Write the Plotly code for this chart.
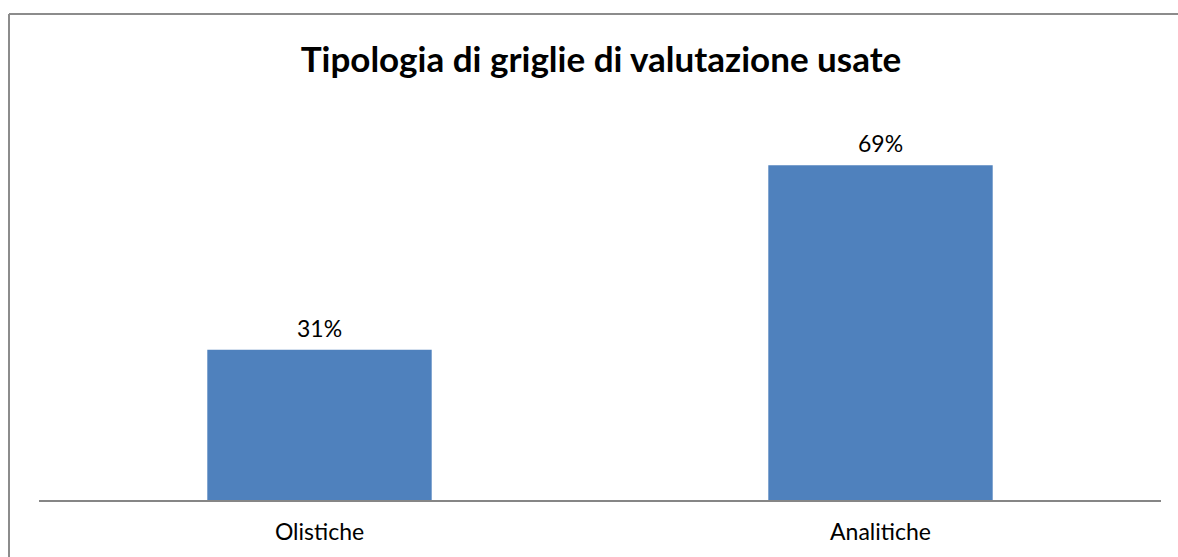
import plotly.graph_objects as go

categories = ["Olistiche", "Analitiche"]
values = [0.31, 0.69]
title_text = "Tipologia di griglie di valutazione usate"

W, H = 1178, 557
L, R, T, B = 39, 17, 112, 57
pw, ph = W - L - R, H - T - B

def px_x(x):
    return (x - L) / pw

def px_y(y):
    return (H - B - y) / ph

fig = go.Figure(go.Bar(
    x=categories, y=values,
    marker=dict(color="#4F81BD", line=dict(width=0)),
    hoverinfo="x+y",
))

for c, v in zip(categories, values):
    fig.add_annotation(x=c, y=v, text=f"{v:.0%}", showarrow=False,
                       yanchor="bottom", yshift=6,
                       font=dict(size=23, family="Lato", color="#000000"))

border = dict(color="#8c8c8c", width=2)
fig.update_layout(
    width=W, height=H,
    margin=dict(l=L, r=R, t=T, b=B),
    paper_bgcolor="white", plot_bgcolor="white",
    bargap=0.6,
    showlegend=False,
    title=dict(text="<b>" + title_text + "</b>", x=601 / W, xanchor="center",
               y=1 - 60 / H, yanchor="middle",
               font=dict(size=35, family="Lato", color="#000000")),
    xaxis=dict(showline=True, linecolor="#868686", linewidth=2, ticks="",
               tickfont=dict(size=23, family="Lato", color="#000000"),
               ticklabelstandoff=10, showgrid=False),
    yaxis=dict(range=[0, 0.8], visible=False, showgrid=False),
    shapes=[
        dict(type="line", xref="paper", yref="paper",
             x0=px_x(9), x1=px_x(1200), y0=px_y(14), y1=px_y(14),
             line=border, layer="below"),
        dict(type="line", xref="paper", yref="paper",
             x0=px_x(9), x1=px_x(9), y0=px_y(14), y1=px_y(580),
             line=border, layer="below"),
    ],
)

fig.write_html(
    "out.html",
    config={"displayModeBar": False},
    post_script="document.body.style.margin='0';document.body.style.overflow='hidden';",
)
